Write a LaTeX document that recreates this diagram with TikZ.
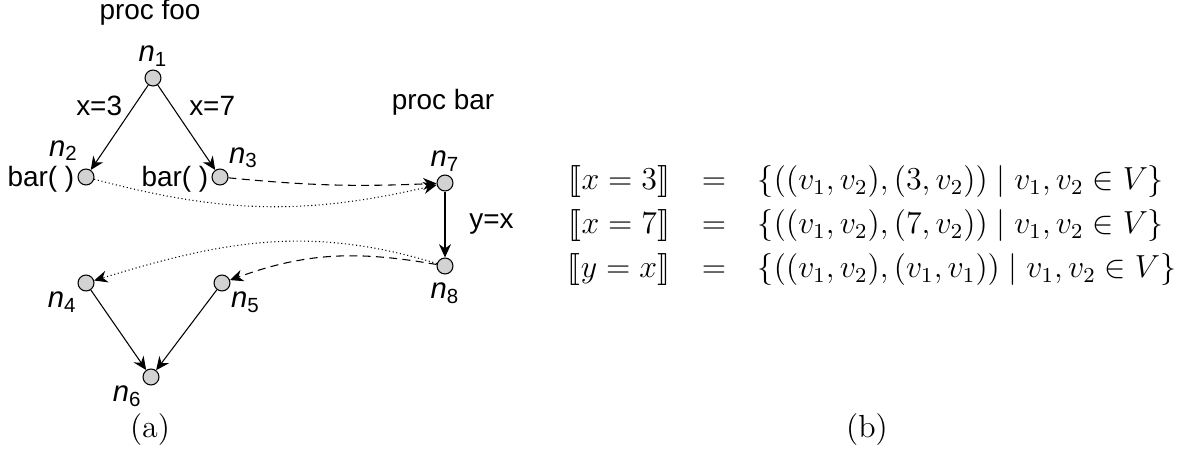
\documentclass[tikz,border=0pt]{standalone}
\usepackage{amsmath}
\usepackage{stmaryrd}
\usepackage{fontspec}
\newfontfamily\arial{Liberation Sans}
\usetikzlibrary{arrows.meta}

\newcommand{\nn}[1]{{\itshape n}\textsubscript{#1}}

\begin{document}
\begin{tikzpicture}[x=0.376pt,y=-0.376pt,
  cfg/.style={circle,draw,fill=gray!35,inner sep=0pt,minimum size=6pt,thin},
  lbl/.style={font=\fontsize{10.5}{12}\arial,inner sep=1pt},
  nlbl/.style={font=\fontsize{11}{13}\arial,inner sep=1pt},
  edge/.style={-{Stealth[length=5pt,width=4.5pt]},thin},
  calls/.style={edge,dash pattern=on 3pt off 2pt},
  rets/.style={edge,densely dotted}]
\useasboundingbox (0,0) rectangle (1203,458);
% procedure foo
\node[lbl] (foo) at (150,12) {proc foo};
\node[cfg,label={[nlbl]above:\nn{1}}] (n1) at (153,78) {};
\node[cfg,label={[nlbl,label distance=2pt]110:\nn{2}},label={[lbl,yshift=-1pt]left:bar( )}] (n2) at (86,177) {};
\node[cfg,label={[nlbl]above right:\nn{3}},label={[lbl,yshift=-1pt]left:bar( )}] (n3) at (220,177) {};
\node[cfg,label={[nlbl]below left:\nn{4}}] (n4) at (86,283) {};
\node[cfg,label={[nlbl]below right:\nn{5}}] (n5) at (222,283) {};
\node[cfg,label={[nlbl]below left:\nn{6}}] (n6) at (151,377) {};
% procedure bar
\node[lbl] (bar) at (443,102) {proc bar};
\node[cfg,label={[nlbl]above:\nn{7}}] (n7) at (445,183) {};
\node[cfg,label={[nlbl,label distance=2pt]below:\nn{8}}] (n8) at (445,266) {};

\draw[edge] (n1) -- (n2) node[lbl,pos=0.4,above left] {x=3};
\draw[edge] (n1) -- (n3) node[lbl,pos=0.4,above right,xshift=2pt] {x=7};
\draw[edge] (n7) -- (n8) node[lbl,midway,right=8pt] {y=x};
\draw[edge] (n4) -- (n6);
\draw[edge] (n5) -- (n6);
% calls and returns
\draw[calls] (n3) to[bend right=4] (n7);
\draw[rets] (n2) to[bend right=14] (n7);
\draw[rets] (n8) to[out=163,in=17] (n4);
\draw[calls] (n8) to[out=170,in=20] (n5);

\node[font=\fontsize{12}{14}\selectfont] (capa) at (150,430) {(a)};
% semantics of the edges
\node[font=\fontsize{12}{14}\selectfont] (sem) at (872,226) {$\begin{array}{r@{\quad}c@{\quad}l}
 \llbracket x=3\rrbracket & = & \{((v_1,v_2),(3,v_2))\mid v_1,v_2\in V\}\\[2.5pt]
 \llbracket x=7\rrbracket & = & \{((v_1,v_2),(7,v_2))\mid v_1,v_2\in V\}\\[2.5pt]
 \llbracket y=x\rrbracket & = & \{((v_1,v_2),(v_1,v_1))\mid v_1,v_2\in V\}
 \end{array}$};
\node[font=\fontsize{12}{14}\selectfont] (capb) at (867,430) {(b)};
\end{tikzpicture}
\end{document}
